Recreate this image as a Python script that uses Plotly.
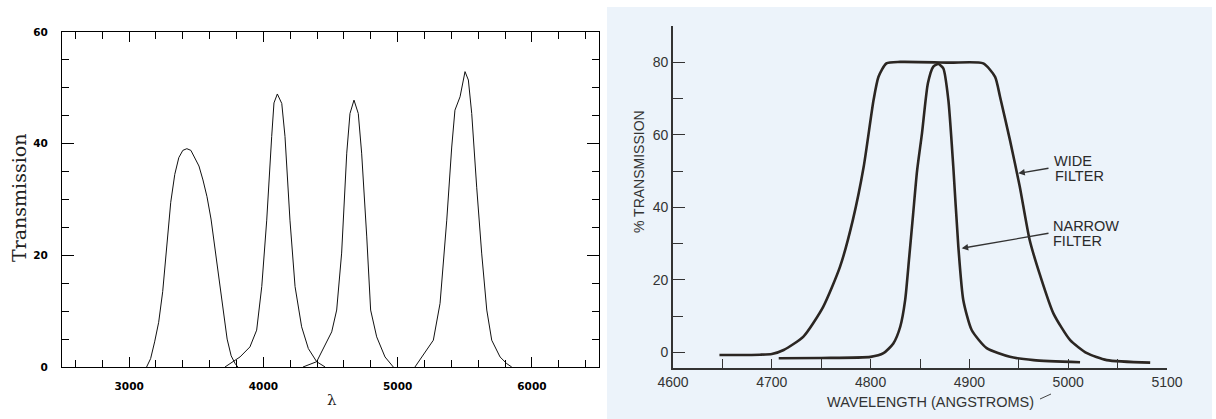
import plotly.graph_objects as go

W, H = 1216, 419

# ---------------- Left panel: Strömgren-like filter curves ----------------
u_x = [3130, 3160, 3190, 3220, 3250, 3280, 3310, 3340, 3370, 3400, 3430, 3460, 3490,
       3520, 3550, 3580, 3610, 3640, 3670, 3700, 3730, 3760, 3790, 3810]
u_y = [0, 1.5, 4.5, 8, 13.5, 21, 29.5, 34.5, 37.5, 38.8, 39.1, 38.8, 37.3,
       36, 33.5, 30.5, 26.5, 21, 15.5, 10, 5, 2, 0.6, 0]

v_x = [3714, 3826, 3900, 3950, 3988, 4025, 4062, 4079, 4104, 4137, 4161, 4198, 4236,
       4285, 4335, 4397, 4460]
v_y = [0, 1.8, 3.6, 6.6, 14.4, 26.3, 41.3, 47.3, 48.9, 47.2, 41.3, 26.3, 14.4,
       7.2, 3.3, 0.95, 0]

b_x = [4295, 4397, 4509, 4546, 4583, 4621, 4645, 4675, 4707, 4732, 4770, 4799, 4844,
       4906, 4968]
b_y = [0, 0.95, 6.3, 10.2, 20.4, 38.3, 45.4, 47.8, 45.4, 38.3, 23.3, 10.2, 5.4,
       1.8, 0]

y_x = [5129, 5179, 5266, 5316, 5366, 5403, 5427, 5465, 5502, 5527, 5552, 5589, 5626,
       5664, 5701, 5763, 5813, 5850]
y_y = [0, 1.8, 4.8, 11.4, 26.3, 39.4, 46.0, 48.4, 52.9, 51.4, 45.4, 32.2, 20.4,
       10.2, 4.8, 1.8, 0.6, 0]

left_xticks = [3000, 4000, 5000, 6000]
left_yticks = [0, 20, 40, 60]

# ---------------- Right panel: wide / narrow H-beta filters ----------------
wide_x = [4647, 4688, 4700, 4712, 4732, 4752, 4769, 4782, 4793, 4803, 4808, 4816,
          4830, 4880, 4914, 4926, 4931, 4941, 4951, 4961, 4972, 4985, 5002, 5019,
          5039, 5083]
wide_y = [-0.7, -0.6, -0.4, 0.7, 4.4, 12.6, 23.6, 36.5, 51.2, 69.6, 76.0, 79.7,
          80.1, 79.9, 79.7, 76.0, 70.5, 58.6, 45.7, 31.0, 20.9, 10.8, 3.4, -0.2,
          -2.1, -2.8]

narrow_x = [4707, 4750, 4800, 4813, 4823, 4830, 4835, 4839, 4843, 4847, 4852, 4858,
            4863.5, 4868.5, 4873.6, 4878.7, 4883.7, 4888.8, 4893.8, 4902.3, 4917.5,
            4941, 4965, 5012]
narrow_y = [-1.6, -1.5, -1.2, -0.2, 2.5, 7.1, 14.5, 26, 38, 50, 60.4, 74.2,
            78.8, 79.5, 78.3, 69.6, 51.2, 29.2, 14.5, 6.2, 1.2,
            -1.2, -2.1, -2.7]

right_xticks = [4600, 4700, 4800, 4900, 5000, 5100]
right_xminor = [4650, 4750, 4850, 4950, 5050]
right_yticks = [0, 20, 40, 60, 80]
right_yminor = [10, 30, 50, 70, 90]


def px(x):
    return x / W


def py(y):
    return 1 - y / H


fig = go.Figure()

for xs, ys in [(u_x, u_y), (v_x, v_y), (b_x, b_y), (y_x, y_y)]:
    fig.add_trace(go.Scatter(x=xs, y=ys, mode="lines", xaxis="x", yaxis="y",
                             line=dict(color="#111111", width=1),
                             showlegend=False, hoverinfo="skip"))

ink = "#2b2622"
for xs, ys in [(wide_x, wide_y), (narrow_x, narrow_y)]:
    fig.add_trace(go.Scatter(x=xs, y=ys, mode="lines", xaxis="x2", yaxis="y2",
                             line=dict(color=ink, width=2.6, shape="spline", smoothing=0.6),
                             showlegend=False, hoverinfo="skip"))

left_tick_font = dict(family="DejaVu Sans", size=10.5, color="#000000", weight="bold")

fig.update_layout(
    width=W, height=H,
    margin=dict(l=0, r=0, t=0, b=0, autoexpand=False),
    paper_bgcolor="white", plot_bgcolor="rgba(0,0,0,0)",
    xaxis=dict(
        domain=[px(62), px(599)], range=[2500, 6500], anchor="y", automargin=False,
        showline=True, linecolor="#000", linewidth=1, mirror="allticks",
        showgrid=False, zeroline=False,
        ticks="inside", ticklen=10, tickwidth=1, tickcolor="#000",
        tickmode="array", tickvals=left_xticks,
        ticktext=[str(v) for v in left_xticks],
        minor=dict(ticks="inside", ticklen=7, dtick=200, tick0=0, tickcolor="#000", showgrid=False),
        tickfont=left_tick_font, ticklabelstandoff=9,
    ),
    yaxis=dict(
        domain=[py(367), py(32)], range=[0, 60], anchor="x", automargin=False,
        showline=True, linecolor="#000", linewidth=1, mirror="allticks",
        showgrid=False, zeroline=False,
        ticks="inside", ticklen=12, tickwidth=1, tickcolor="#000",
        tickmode="array", tickvals=left_yticks,
        ticktext=[str(v) for v in left_yticks],
        minor=dict(ticks="inside", ticklen=7, dtick=5, tick0=0, tickcolor="#000", showgrid=False),
        tickfont=left_tick_font, ticklabelstandoff=11,
    ),
    xaxis2=dict(
        domain=[px(673), px(1167)], range=[4600, 5100], anchor="y2", automargin=False,
        showline=True, linecolor="#333", linewidth=1.6,
        showgrid=False, zeroline=False,
        ticks="inside", ticklen=9, tickwidth=1.4, tickcolor="#333",
        tickmode="array", tickvals=right_xticks,
        ticktext=[str(v) for v in right_xticks],
        minor=dict(ticks="inside", ticklen=9, tickmode="array", tickvals=right_xminor,
                   tickcolor="#333", showgrid=False),
        tickfont=dict(family="Liberation Sans", size=14, color="#333"),
        ticklabelstandoff=0,
    ),
    yaxis2=dict(
        domain=[py(368), py(25.7)], range=[-4.27, 90.08], anchor="x2", automargin=False,
        showline=True, linecolor="#333", linewidth=1.6,
        showgrid=False, zeroline=False,
        ticks="inside", ticklen=12, tickwidth=1.4, tickcolor="#333",
        tickmode="array", tickvals=right_yticks,
        ticktext=[str(v) for v in right_yticks],
        minor=dict(ticks="inside", ticklen=10, tickmode="array", tickvals=right_yminor,
                   tickcolor="#333", showgrid=False),
        tickfont=dict(family="Liberation Sans", size=14, color="#333"),
        ticklabelstandoff=0,
    ),
    shapes=[
        dict(type="rect", xref="paper", yref="paper", layer="below",
             x0=px(607), x1=px(1212), y0=0, y1=py(7),
             fillcolor="#ecf3fa", line=dict(width=0)),
        dict(type="line", xref="paper", yref="paper",
             x0=px(1040), y0=py(399), x1=px(1051), y1=py(394),
             line=dict(color="#444", width=1)),
    ],
)

ann = []
# Left panel titles
ann.append(dict(text="Transmission", xref="paper", yref="paper", x=px(19), y=py(198),
                textangle=-90, showarrow=False, xanchor="center", yanchor="middle",
                font=dict(family="DejaVu Serif", size=19, color="#222")))
ann.append(dict(text="λ", xref="paper", yref="paper", x=px(332), y=py(400),
                showarrow=False, xanchor="center", yanchor="middle",
                font=dict(family="DejaVu Serif", size=15, color="#222")))
# Right panel titles
ann.append(dict(text="% TRANSMISSION", xref="paper", yref="paper", x=px(639), y=py(171),
                textangle=-90, showarrow=False, xanchor="center", yanchor="middle",
                font=dict(family="Liberation Sans", size=14, color="#333")))
ann.append(dict(text="WAVELENGTH (ANGSTROMS)", xref="paper", yref="paper", x=px(930), y=py(402),
                showarrow=False, xanchor="center", yanchor="middle",
                font=dict(family="Liberation Sans", size=14.5, color="#333")))
# Curve labels
lab_font = dict(family="Liberation Sans", size=14.5, color="#2a2a2a")
for txt, x0, y0 in [("WIDE", 1052, 161), ("FILTER", 1052.5, 176),
                    ("NARROW", 1050.5, 226), ("FILTER", 1050.5, 241)]:
    ann.append(dict(text=txt, xref="paper", yref="paper", x=px(x0), y=py(y0),
                    showarrow=False, xanchor="left", yanchor="middle", font=lab_font))
# Arrows
for hx, hy, tx, ty in [(1018.3, 173.3, 1050, 168), (961.7, 248.3, 1050, 233)]:
    ann.append(dict(text="", xref="paper", yref="paper", x=px(hx), y=py(hy),
                    ax=tx - hx, ay=ty - hy, showarrow=True, arrowhead=2,
                    arrowsize=1, arrowwidth=1.3, arrowcolor="#333"))
fig.update_layout(annotations=ann)

fig.write_html("out.html", config={"displayModeBar": False},
               post_script="document.body.style.margin='0';document.body.style.padding='0';")
